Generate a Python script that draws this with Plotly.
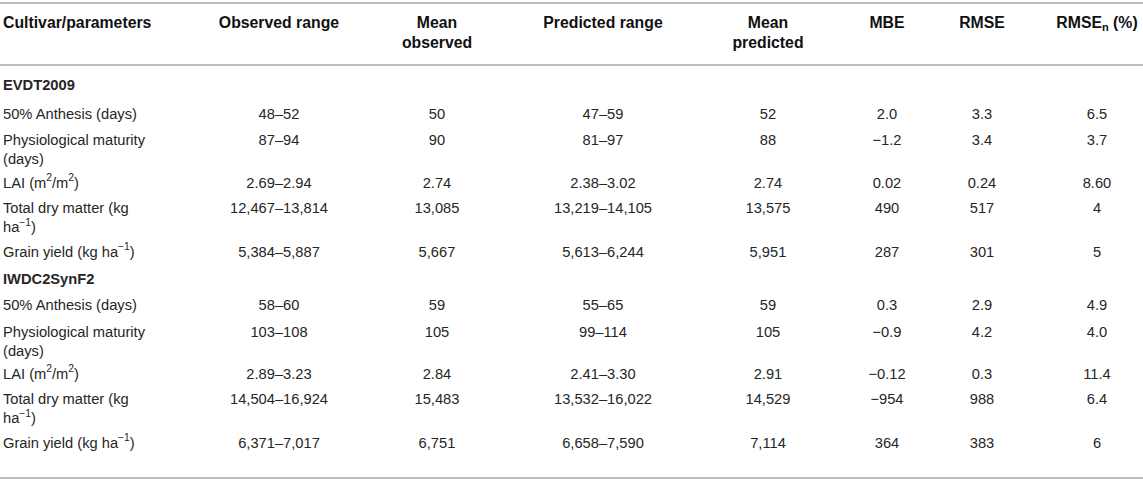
import plotly.graph_objects as go

# table content
headers = ["Cultivar/parameters", "Observed range", "Mean<br>observed", "Predicted range",
           "Mean<br>predicted", "MBE", "RMSE", "RMSE<sub>n</sub> (%)"]

parameters = ["<b>EVDT2009</b>", "50% Anthesis (days)", "Physiological maturity<br>(days)",
              "LAI (m<sup>2</sup>/m<sup>2</sup>)", "Total dry matter (kg<br>ha<sup>−1</sup>)",
              "Grain yield (kg ha<sup>−1</sup>)",
              "<b>IWDC2SynF2</b>", "50% Anthesis (days)", "Physiological maturity<br>(days)",
              "LAI (m<sup>2</sup>/m<sup>2</sup>)", "Total dry matter (kg<br>ha<sup>−1</sup>)",
              "Grain yield (kg ha<sup>−1</sup>)"]
observed_range = ["", "48–52", "87–94", "2.69–2.94", "12,467–13,814", "5,384–5,887",
                  "", "58–60", "103–108", "2.89–3.23", "14,504–16,924", "6,371–7,017"]
mean_observed = ["", "50", "90", "2.74", "13,085", "5,667",
                 "", "59", "105", "2.84", "15,483", "6,751"]
predicted_range = ["", "47–59", "81–97", "2.38–3.02", "13,219–14,105", "5,613–6,244",
                   "", "55–65", "99–114", "2.41–3.30", "13,532–16,022", "6,658–7,590"]
mean_predicted = ["", "52", "88", "2.74", "13,575", "5,951",
                  "", "59", "105", "2.91", "14,529", "7,114"]
mbe = ["", "2.0", "−1.2", "0.02", "490", "287",
       "", "0.3", "−0.9", "−0.12", "−954", "364"]
rmse = ["", "3.3", "3.4", "0.24", "517", "301",
        "", "2.9", "4.2", "0.3", "988", "383"]
rmse_n = ["", "6.5", "3.7", "8.60", "4", "5",
          "", "4.9", "4.0", "11.4", "6.4", "6"]

columns = [parameters, observed_range, mean_observed, predicted_range,
           mean_predicted, mbe, rmse, rmse_n]

# layout (pixels)
W, H = 1143, 487
col_x = [3, 279, 437, 603, 768, 887, 982, 1097]
row_y = [86, 115, 141, 184, 209, 253, 280, 306, 333, 375, 400, 444]
header_y = 24
rules = [3, 65, 478]
body_size, head_size = 14.7, 15.8
line_gap = 1.3  # plotly line spacing in em

fig = go.Figure()

# header row, first line of every header on the same baseline
hy = [header_y + (h.count("<br>")) * line_gap * head_size / 2 for h in headers]
fig.add_trace(go.Scatter(
    x=col_x, y=hy, mode="text", text=headers, cliponaxis=False, marker=dict(size=0),
    textposition=["middle right"] + ["middle center"] * 7,
    textfont=dict(family="Liberation Sans", size=head_size, color="#111111", weight="bold"),
    hoverinfo="skip", showlegend=False))

for i, col in enumerate(columns):
    ys = [y + t.count("<br>") * line_gap * body_size / 2 for y, t in zip(row_y, col)]
    fig.add_trace(go.Scatter(
        x=[col_x[i]] * len(col), y=ys, mode="text", text=col, cliponaxis=False,
        marker=dict(size=0),
        textposition="middle right" if i == 0 else "middle center",
        textfont=dict(family="Liberation Sans", size=body_size, color="#262626"),
        hoverinfo="skip", showlegend=False))

for r in rules:
    fig.add_shape(type="line", x0=0, x1=W, y0=r, y1=r,
                  line=dict(color="#bdbdbd", width=2))

fig.update_xaxes(range=[0, W], visible=False, fixedrange=True)
fig.update_yaxes(range=[H, 0], visible=False, fixedrange=True)
fig.update_layout(width=W, height=H, margin=dict(l=0, r=0, t=0, b=0),
                  paper_bgcolor="white", plot_bgcolor="white")
# drop the browser's default page margin so the figure sits at the window corner
fig.write_html("out.html", config={"displayModeBar": False},
               post_script="document.body.style.margin='0';")
